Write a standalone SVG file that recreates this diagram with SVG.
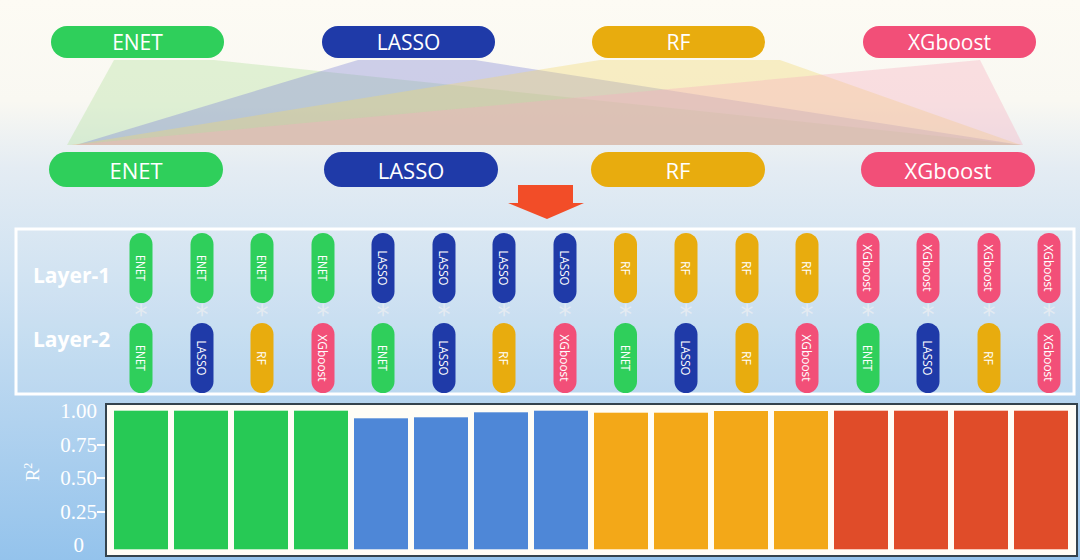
<svg xmlns="http://www.w3.org/2000/svg" width="1080" height="560" viewBox="0 0 1080 560">
<defs>
<linearGradient id="bg" x1="0" y1="0" x2="0" y2="1">
<stop offset="0" stop-color="#fdfbf4"/>
<stop offset="0.18" stop-color="#f9f8f2"/>
<stop offset="0.3" stop-color="#e4ecf3"/>
<stop offset="0.5" stop-color="#cfe2f2"/>
<stop offset="1" stop-color="#94c3ec"/>
</linearGradient>
<style>
.pill-t{font-family:"Open Sans","Liberation Sans",sans-serif;font-size:21px;fill:#ffffff;text-anchor:middle;dominant-baseline:central}
.lab{font-family:"Open Sans","Liberation Sans",sans-serif;font-size:21px;font-weight:700;fill:#ffffff}
.vt{font-family:"Open Sans","Liberation Sans",sans-serif;font-size:13px;fill:#ffffff;text-anchor:middle;dominant-baseline:central}
.ax{font-family:"Liberation Serif",serif;font-size:21px;fill:#ffffff;text-anchor:end}
.star{font-family:"DejaVu Sans",sans-serif;font-size:26px;fill:#e4ebf2;text-anchor:middle}
.enet{fill:#2fcf5b}.lasso{fill:#1f3aa8}.rf{fill:#e8ac0e}.xgb{fill:#f24f78}
.fan{opacity:0.36}
</style>
</defs>
<rect x="0" y="0" width="1080" height="560" fill="url(#bg)"/>

<g id="fans">
<polygon class="fan" points="114,60 214,60 1023,145 67,145" fill="#b2e09a"/>
<polygon class="fan" points="358,60 475,60 1021,145 76,145" fill="#7c82d6"/>
<polygon class="fan" points="600,60 780,60 1021,145 72,145" fill="#f2d870"/>
<polygon class="fan" points="980,60 980,60 1023,145 70,145" fill="#f6b0bf"/>
</g>

<g id="top-enet"><rect class="enet" x="51" y="26" width="173" height="32" rx="16"/><text class="pill-t" x="137.5" y="42">ENET</text></g>
<g id="top-lasso"><rect class="lasso" x="322" y="26" width="173" height="32" rx="16"/><text class="pill-t" x="408.5" y="42">LASSO</text></g>
<g id="top-rf"><rect class="rf" x="592" y="26" width="173" height="32" rx="16"/><text class="pill-t" x="678.5" y="42">RF</text></g>
<g id="top-xgb"><rect class="xgb" x="863" y="26" width="173" height="32" rx="16"/><text class="pill-t" x="949.5" y="42">XGboost</text></g>

<g id="bot-enet"><rect class="enet" x="49" y="152" width="174" height="35" rx="17.5"/><text class="pill-t" x="136" y="169.5" style="font-size:22px">ENET</text></g>
<g id="bot-lasso"><rect class="lasso" x="324" y="152" width="174" height="35" rx="17.5"/><text class="pill-t" x="411" y="169.5" style="font-size:22px">LASSO</text></g>
<g id="bot-rf"><rect class="rf" x="591" y="152" width="174" height="35" rx="17.5"/><text class="pill-t" x="678" y="169.5" style="font-size:22px">RF</text></g>
<g id="bot-xgb"><rect class="xgb" x="861" y="152" width="174" height="35" rx="17.5"/><text class="pill-t" x="948" y="169.5" style="font-size:22px">XGboost</text></g>

<g id="arrow"><polygon points="518,185 573,185 573,203 584,203 547,219 508,203 518,203" fill="#f24d28"/></g>

<g id="layers">
<rect x="16" y="229" width="1058" height="165" fill="#ffffff" fill-opacity="0.06" stroke="#ffffff" stroke-width="3"/>
<text class="lab" x="33" y="283">Layer-1</text>
<text class="lab" x="33" y="347">Layer-2</text>
</g>

<g id="combos">
<g id="c1"><rect class="enet" x="129.5" y="233" width="23" height="70" rx="11.5"/><text class="vt" transform="translate(141,268) rotate(90)" textLength="26" lengthAdjust="spacingAndGlyphs">ENET</text><text class="star" x="141" y="324">*</text><rect class="enet" x="129.5" y="323" width="23" height="70" rx="11.5"/><text class="vt" transform="translate(141,358) rotate(90)" textLength="26" lengthAdjust="spacingAndGlyphs">ENET</text></g>
<g id="c2"><rect class="enet" x="190.5" y="233" width="23" height="70" rx="11.5"/><text class="vt" transform="translate(202,268) rotate(90)" textLength="26" lengthAdjust="spacingAndGlyphs">ENET</text><text class="star" x="202" y="324">*</text><rect class="lasso" x="190.5" y="323" width="23" height="70" rx="11.5"/><text class="vt" transform="translate(202,358) rotate(90)" textLength="35" lengthAdjust="spacingAndGlyphs">LASSO</text></g>
<g id="c3"><rect class="enet" x="250.5" y="233" width="23" height="70" rx="11.5"/><text class="vt" transform="translate(262,268) rotate(90)" textLength="26" lengthAdjust="spacingAndGlyphs">ENET</text><text class="star" x="262" y="324">*</text><rect class="rf" x="250.5" y="323" width="23" height="70" rx="11.5"/><text class="vt" transform="translate(262,358) rotate(90)" textLength="14" lengthAdjust="spacingAndGlyphs">RF</text></g>
<g id="c4"><rect class="enet" x="311.5" y="233" width="23" height="70" rx="11.5"/><text class="vt" transform="translate(323,268) rotate(90)" textLength="26" lengthAdjust="spacingAndGlyphs">ENET</text><text class="star" x="323" y="324">*</text><rect class="xgb" x="311.5" y="323" width="23" height="70" rx="11.5"/><text class="vt" transform="translate(323,358) rotate(90)" textLength="47" lengthAdjust="spacingAndGlyphs">XGboost</text></g>

<g id="c5"><rect class="lasso" x="371.5" y="233" width="23" height="70" rx="11.5"/><text class="vt" transform="translate(383,268) rotate(90)" textLength="35" lengthAdjust="spacingAndGlyphs">LASSO</text><text class="star" x="383" y="324">*</text><rect class="enet" x="371.5" y="323" width="23" height="70" rx="11.5"/><text class="vt" transform="translate(383,358) rotate(90)" textLength="26" lengthAdjust="spacingAndGlyphs">ENET</text></g>
<g id="c6"><rect class="lasso" x="432.5" y="233" width="23" height="70" rx="11.5"/><text class="vt" transform="translate(444,268) rotate(90)" textLength="35" lengthAdjust="spacingAndGlyphs">LASSO</text><text class="star" x="444" y="324">*</text><rect class="lasso" x="432.5" y="323" width="23" height="70" rx="11.5"/><text class="vt" transform="translate(444,358) rotate(90)" textLength="35" lengthAdjust="spacingAndGlyphs">LASSO</text></g>
<g id="c7"><rect class="lasso" x="492.5" y="233" width="23" height="70" rx="11.5"/><text class="vt" transform="translate(504,268) rotate(90)" textLength="35" lengthAdjust="spacingAndGlyphs">LASSO</text><text class="star" x="504" y="324">*</text><rect class="rf" x="492.5" y="323" width="23" height="70" rx="11.5"/><text class="vt" transform="translate(504,358) rotate(90)" textLength="14" lengthAdjust="spacingAndGlyphs">RF</text></g>
<g id="c8"><rect class="lasso" x="553.5" y="233" width="23" height="70" rx="11.5"/><text class="vt" transform="translate(565,268) rotate(90)" textLength="35" lengthAdjust="spacingAndGlyphs">LASSO</text><text class="star" x="565" y="324">*</text><rect class="xgb" x="553.5" y="323" width="23" height="70" rx="11.5"/><text class="vt" transform="translate(565,358) rotate(90)" textLength="47" lengthAdjust="spacingAndGlyphs">XGboost</text></g>

<g id="c9"><rect class="rf" x="614" y="233" width="23" height="70" rx="11.5"/><text class="vt" transform="translate(625.5,268) rotate(90)" textLength="14" lengthAdjust="spacingAndGlyphs">RF</text><text class="star" x="625.5" y="324">*</text><rect class="enet" x="614" y="323" width="23" height="70" rx="11.5"/><text class="vt" transform="translate(625.5,358) rotate(90)" textLength="26" lengthAdjust="spacingAndGlyphs">ENET</text></g>
<g id="c10"><rect class="rf" x="674.5" y="233" width="23" height="70" rx="11.5"/><text class="vt" transform="translate(686,268) rotate(90)" textLength="14" lengthAdjust="spacingAndGlyphs">RF</text><text class="star" x="686" y="324">*</text><rect class="lasso" x="674.5" y="323" width="23" height="70" rx="11.5"/><text class="vt" transform="translate(686,358) rotate(90)" textLength="35" lengthAdjust="spacingAndGlyphs">LASSO</text></g>
<g id="c11"><rect class="rf" x="735.5" y="233" width="23" height="70" rx="11.5"/><text class="vt" transform="translate(747,268) rotate(90)" textLength="14" lengthAdjust="spacingAndGlyphs">RF</text><text class="star" x="747" y="324">*</text><rect class="rf" x="735.5" y="323" width="23" height="70" rx="11.5"/><text class="vt" transform="translate(747,358) rotate(90)" textLength="14" lengthAdjust="spacingAndGlyphs">RF</text></g>
<g id="c12"><rect class="rf" x="795.5" y="233" width="23" height="70" rx="11.5"/><text class="vt" transform="translate(807,268) rotate(90)" textLength="14" lengthAdjust="spacingAndGlyphs">RF</text><text class="star" x="807" y="324">*</text><rect class="xgb" x="795.5" y="323" width="23" height="70" rx="11.5"/><text class="vt" transform="translate(807,358) rotate(90)" textLength="47" lengthAdjust="spacingAndGlyphs">XGboost</text></g>

<g id="c13"><rect class="xgb" x="856.5" y="233" width="23" height="70" rx="11.5"/><text class="vt" transform="translate(868,268) rotate(90)" textLength="47" lengthAdjust="spacingAndGlyphs">XGboost</text><text class="star" x="868" y="324">*</text><rect class="enet" x="856.5" y="323" width="23" height="70" rx="11.5"/><text class="vt" transform="translate(868,358) rotate(90)" textLength="26" lengthAdjust="spacingAndGlyphs">ENET</text></g>
<g id="c14"><rect class="xgb" x="916.5" y="233" width="23" height="70" rx="11.5"/><text class="vt" transform="translate(928,268) rotate(90)" textLength="47" lengthAdjust="spacingAndGlyphs">XGboost</text><text class="star" x="928" y="324">*</text><rect class="lasso" x="916.5" y="323" width="23" height="70" rx="11.5"/><text class="vt" transform="translate(928,358) rotate(90)" textLength="35" lengthAdjust="spacingAndGlyphs">LASSO</text></g>
<g id="c15"><rect class="xgb" x="977.5" y="233" width="23" height="70" rx="11.5"/><text class="vt" transform="translate(989,268) rotate(90)" textLength="47" lengthAdjust="spacingAndGlyphs">XGboost</text><text class="star" x="989" y="324">*</text><rect class="rf" x="977.5" y="323" width="23" height="70" rx="11.5"/><text class="vt" transform="translate(989,358) rotate(90)" textLength="14" lengthAdjust="spacingAndGlyphs">RF</text></g>
<g id="c16"><rect class="xgb" x="1037.5" y="233" width="23" height="70" rx="11.5"/><text class="vt" transform="translate(1049,268) rotate(90)" textLength="47" lengthAdjust="spacingAndGlyphs">XGboost</text><text class="star" x="1049" y="324">*</text><rect class="xgb" x="1037.5" y="323" width="23" height="70" rx="11.5"/><text class="vt" transform="translate(1049,358) rotate(90)" textLength="47" lengthAdjust="spacingAndGlyphs">XGboost</text></g>
</g>

<g id="chart">
<rect x="106" y="404" width="971" height="152" fill="#fffdf6" stroke="#34434d" stroke-width="2"/>
<g id="bars">
<rect x="114" y="410.7" width="54" height="138.6" fill="#27c955"/>
<rect x="174" y="410.7" width="54" height="138.6" fill="#27c955"/>
<rect x="234" y="410.7" width="54" height="138.6" fill="#27c955"/>
<rect x="294" y="410.7" width="54" height="138.6" fill="#27c955"/>
<rect x="354" y="418.3" width="54" height="131" fill="#4e87d7"/>
<rect x="414" y="417.3" width="54" height="132" fill="#4e87d7"/>
<rect x="474" y="412.3" width="54" height="137" fill="#4e87d7"/>
<rect x="534" y="410.7" width="54" height="138.6" fill="#4e87d7"/>
<rect x="594" y="412.7" width="54" height="136.6" fill="#f3a818"/>
<rect x="654" y="412.7" width="54" height="136.6" fill="#f3a818"/>
<rect x="714" y="411" width="54" height="138.3" fill="#f3a818"/>
<rect x="774" y="411" width="54" height="138.3" fill="#f3a818"/>
<rect x="834" y="410.7" width="54" height="138.6" fill="#e04c29"/>
<rect x="894" y="410.7" width="54" height="138.6" fill="#e04c29"/>
<rect x="954" y="410.7" width="54" height="138.6" fill="#e04c29"/>
<rect x="1014" y="410.7" width="54" height="138.6" fill="#e04c29"/>
</g>
<g id="axis" stroke="#ffffff" stroke-width="2">
<line x1="97" y1="445" x2="105" y2="445"/>
<line x1="97" y1="478" x2="105" y2="478"/>
<line x1="97" y1="512" x2="105" y2="512"/>
</g>
<text class="ax" x="97" y="418">1.00</text>
<text class="ax" x="97" y="452">0.75</text>
<text class="ax" x="97" y="485">0.50</text>
<text class="ax" x="97" y="519">0.25</text>
<text class="ax" x="84" y="552">0</text>
<text transform="translate(39,472) rotate(-90)" style="font-family:'Liberation Serif',serif;font-size:19px;fill:#ffffff;text-anchor:middle">R<tspan dy="-7" style="font-size:12px">2</tspan></text>
</g>
</svg>
